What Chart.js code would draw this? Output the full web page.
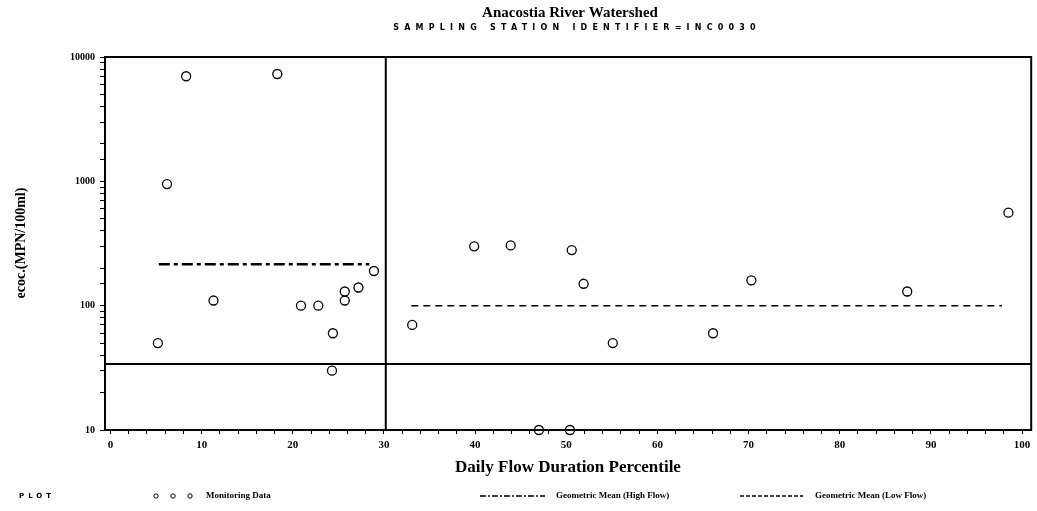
<!DOCTYPE html>
<html>
<head>
<meta charset="utf-8">
<script src="https://cdn.jsdelivr.net/npm/chart.js@4.4.1/dist/chart.umd.min.js"></script>
<style>
  html, body { margin: 0; padding: 0; background: #fff; }
</style>
</head>
<body>
<canvas id="flowChart" width="1037" height="511"></canvas>
<script>
// monitoring samples (percentile, ecoli MPN/100ml)
const samplePercentile = [5.2, 6.2, 8.3, 11.3, 18.3, 20.9, 22.8, 24.4, 24.3, 25.7, 25.7, 27.2, 28.9,
                          33.1, 39.9, 43.9, 47.0, 50.4, 50.6, 51.9, 55.1, 66.1, 70.3, 87.4, 98.5];
const sampleEcoli = [50, 950, 7000, 110, 7300, 100, 100, 60, 30, 110, 130, 140, 190,
                     70, 300, 305, 10, 10, 280, 150, 50, 60, 160, 130, 560];

// geometric means
const highFlowRange = [5.3, 28.4];
const highFlowMean = 215;
const lowFlowRange = [33.0, 97.8];
const lowFlowMean = 100;

// reference lines
const flowSplit = 30.2;
const criterionLine = 34;

const xTickLabels = [0, 10, 20, 30, 40, 50, 60, 70, 80, 90, 100];
const yTickLabels = [10, 100, 1000, 10000];

const xMin = -0.6, xMax = 101;
const yMin = 10, yMax = 10000;

const points = samplePercentile.map((p, i) => ({ x: p, y: sampleEcoli[i] }));

const serif = "'Liberation Serif', 'DejaVu Serif', serif";

// titles, axis title, legend and frame
const decorPlugin = {
  id: 'decor',
  afterDraw(chart) {
    const ctx = chart.ctx;
    const a = chart.chartArea;
    ctx.save();
    ctx.fillStyle = '#000';
    ctx.strokeStyle = '#000';

    // frame
    ctx.lineWidth = 2;
    ctx.strokeRect(a.left, a.top, a.right - a.left, a.bottom - a.top);

    // title
    ctx.textAlign = 'center';
    ctx.textBaseline = 'middle';
    ctx.font = "bold 15px " + serif;
    ctx.fillText('Anacostia River Watershed', 570, 13);

    ctx.font = "bold 8px 'DejaVu Sans', sans-serif";
    ctx.letterSpacing = '5.2px';
    ctx.fillText('SAMPLING STATION IDENTIFIER=INC0030', 577, 28);
    ctx.letterSpacing = '0px';

    // x title
    ctx.font = "bold 17px " + serif;
    ctx.fillText('Daily Flow Duration Percentile', 568, 468);

    // y title
    ctx.save();
    ctx.translate(21, 243);
    ctx.rotate(-Math.PI / 2);
    ctx.font = "bold 14px " + serif;
    ctx.fillText('ecoc.(MPN/100ml)', 0, 0);
    ctx.restore();

    // legend
    const ly = 496;
    ctx.textAlign = 'left';
    ctx.font = "bold 7px 'DejaVu Sans', sans-serif";
    ctx.letterSpacing = '4px';
    ctx.fillText('PLOT', 19, ly);
    ctx.letterSpacing = '0px';

    ctx.lineWidth = 1;
    [156, 173, 190].forEach(cx => {
      ctx.beginPath();
      ctx.arc(cx, ly, 2.2, 0, Math.PI * 2);
      ctx.stroke();
    });

    ctx.font = "bold 9px " + serif;
    ctx.fillText('Monitoring Data', 206, ly);
    ctx.fillText('Geometric Mean (High Flow)', 556, ly);
    ctx.fillText('Geometric Mean (Low Flow)', 815, ly);

    ctx.lineWidth = 1.5;
    ctx.setLineDash([6, 2, 2, 2]);
    ctx.beginPath(); ctx.moveTo(480, ly); ctx.lineTo(545, ly); ctx.stroke();
    ctx.setLineDash([4, 2]);
    ctx.beginPath(); ctx.moveTo(740, ly); ctx.lineTo(803, ly); ctx.stroke();
    ctx.restore();
  }
};

const ctx = document.getElementById('flowChart').getContext('2d');
const chart = new Chart(ctx, {
  type: 'scatter',
  data: {
    datasets: [
      {
        label: 'Monitoring Data',
        data: points,
        pointStyle: 'circle',
        pointRadius: 4.5,
        borderWidth: 1.3,
        borderColor: '#000',
        backgroundColor: '#fff',
        clip: false
      },
      {
        type: 'line',
        label: 'Geometric Mean (High Flow)',
        data: highFlowRange.map(x => ({ x: x, y: highFlowMean })),
        borderColor: '#000',
        borderWidth: 2.5,
        borderDash: [11, 4, 4, 4],
        pointRadius: 0
      },
      {
        type: 'line',
        label: 'Geometric Mean (Low Flow)',
        data: lowFlowRange.map(x => ({ x: x, y: lowFlowMean })),
        borderColor: '#000',
        borderWidth: 1.5,
        borderDash: [7, 5],
        pointRadius: 0
      },
      {
        type: 'line',
        label: 'split',
        data: [{ x: flowSplit, y: yMin }, { x: flowSplit, y: yMax }],
        borderColor: '#000',
        borderWidth: 2,
        pointRadius: 0
      },
      {
        type: 'line',
        label: 'criterion',
        data: [{ x: xMin, y: criterionLine }, { x: xMax, y: criterionLine }],
        borderColor: '#000',
        borderWidth: 2,
        pointRadius: 0
      }
    ]
  },
  options: {
    responsive: false,
    devicePixelRatio: 1,
    animation: false,
    events: [],
    layout: { padding: { left: 0, top: 57, right: 4, bottom: 0 } },
    plugins: {
      legend: { display: false },
      title: { display: false },
      tooltip: { enabled: false }
    },
    scales: {
      x: {
        type: 'linear',
        min: xMin,
        max: xMax,
        afterFit(scale) { scale.height = 81; },
        afterBuildTicks(scale) {
          const t = [];
          for (let v = 0; v <= 100; v += 2) t.push({ value: v });
          scale.ticks = t;
        },
        ticks: {
          autoSkip: false,
          maxRotation: 0,
          padding: 5,
          color: '#000',
          font: { family: serif, size: 11, weight: 'bold' },
          callback: v => xTickLabels.includes(v) ? String(v) : ''
        },
        grid: { drawOnChartArea: false, drawTicks: true, tickLength: 4, color: '#000' },
        border: { display: true, color: '#000', width: 2 }
      },
      y: {
        type: 'logarithmic',
        min: yMin,
        max: yMax,
        afterFit(scale) { scale.width = 105; },
        ticks: {
          autoSkip: false,
          padding: 5,
          color: '#000',
          font: { family: serif, size: 10, weight: 'bold' },
          callback: v => yTickLabels.includes(v) ? String(v) : ''
        },
        grid: { drawOnChartArea: false, drawTicks: true, tickLength: 5, color: '#000' },
        border: { display: true, color: '#000', width: 2 }
      }
    }
  },
  plugins: [decorPlugin]
});
</script>
</body>
</html>
